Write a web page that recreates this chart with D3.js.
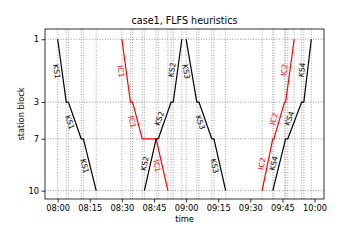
<!DOCTYPE html>
<html>
<head>
<meta charset="utf-8">
<script src="https://cdn.jsdelivr.net/npm/d3@7"></script>
<style>
  body { margin: 0; background: #fff; }
  svg { font-family: "DejaVu Sans", sans-serif; }
</style>
</head>
<body>
<div id="chart"></div>
<script>
// station blocks and their position along the line (km)
const stationLabels = ["1", "3", "7", "10"];
const stationKm = [0, 8.3, 13.15, 20];

// trains: minutes after 08:00 and the block reached at that time
const trainNames = ["KS1", "IC1", "KS2", "KS3", "IC2", "KS4"];
const trainKinds = ["KS", "IC", "KS", "KS", "IC", "KS"];
const trainMinutes = [
  [0, 4, 5, 11, 12, 18],
  [30, 34, 35, 39.5, 46, 51.5],
  [40.5, 46, 47, 53, 54, 58],
  [60, 65, 66, 72, 73, 78.5],
  [95.5, 100.5, 101, 106, 106.5, 110.5],
  [100.5, 106.5, 107.5, 114, 115, 118.5]
];
const trainBlocks = [
  ["1", "3", "3", "7", "7", "10"],
  ["1", "3", "3", "7", "7", "10"],
  ["10", "7", "7", "3", "3", "1"],
  ["1", "3", "3", "7", "7", "10"],
  ["10", "7", "7", "3", "3", "1"],
  ["10", "7", "7", "3", "3", "1"]
];
const kindColor = { KS: "#000", IC: "#f00" };

const width = 360, height = 240;
const margin = { top: 29, right: 36, bottom: 41, left: 45 };

const t0 = new Date(2020, 0, 1, 8, 0);
const toDate = m => new Date(t0.getTime() + m * 60000);
const kmOf = b => stationKm[stationLabels.indexOf(b)];

const trains = trainNames.map((name, i) => ({
  name: name,
  kind: trainKinds[i],
  pts: trainMinutes[i].map((m, j) => ({ t: toDate(m), km: kmOf(trainBlocks[i][j]) }))
}));

const allMin = trainMinutes.flat();
const [mMin, mMax] = d3.extent(allMin);
const pad = (mMax - mMin) * 0.05;

const x = d3.scaleTime()
  .domain([toDate(mMin - pad), toDate(mMax + pad)])
  .range([margin.left, width - margin.right]);

const y = d3.scaleLinear()
  .domain([-1.35, 21.1])
  .range([margin.top, height - margin.bottom]);

const svg = d3.select("#chart").append("svg")
  .attr("width", width)
  .attr("height", height);

// vertical dotted lines at every event time
const eventTimes = Array.from(new Set(allMin)).sort((a, b) => a - b);
svg.append("g").selectAll("line")
  .data(eventTimes)
  .join("line")
    .attr("x1", d => x(toDate(d)))
    .attr("x2", d => x(toDate(d)))
    .attr("y1", margin.top)
    .attr("y2", height - margin.bottom)
    .attr("stroke", "#8a8a8a")
    .attr("stroke-width", 0.8)
    .attr("stroke-dasharray", "1,1.6");

// horizontal dotted lines at the stations
svg.append("g").selectAll("line")
  .data(stationKm)
  .join("line")
    .attr("x1", margin.left)
    .attr("x2", width - margin.right)
    .attr("y1", d => y(d))
    .attr("y2", d => y(d))
    .attr("stroke", "#8a8a8a")
    .attr("stroke-width", 0.9)
    .attr("stroke-dasharray", "1,1.6");

const line = d3.line()
  .x(d => x(d.t))
  .y(d => y(d.km));

svg.append("g").selectAll("path")
  .data(trains)
  .join("path")
    .attr("d", d => line(d.pts))
    .attr("fill", "none")
    .attr("stroke", d => kindColor[d.kind])
    .attr("stroke-width", 1.2);

// labels on every running segment, on the left of the line
const labels = [];
trains.forEach(tr => {
  for (let j = 1; j < tr.pts.length; j++) {
    const a = tr.pts[j - 1], b = tr.pts[j];
    if (a.km === b.km) continue;
    const x0 = x(a.t), y0 = y(a.km), x1 = x(b.t), y1 = y(b.km);
    const ang = Math.atan2(y1 - y0, x1 - x0) * 180 / Math.PI;
    labels.push({ name: tr.name, kind: tr.kind, cx: (x0 + x1) / 2, cy: (y0 + y1) / 2, ang: ang, down: ang > 0 });
  }
});

svg.append("g").selectAll("text")
  .data(labels)
  .join("text")
    .attr("transform", d => "translate(" + d.cx + "," + d.cy + ") rotate(" + d.ang + ")")
    .attr("text-anchor", "middle")
    .attr("dy", d => d.down ? "1.05em" : "-0.4em")
    .attr("font-size", 7.6)
    .attr("fill", d => kindColor[d.kind])
    .text(d => d.name);

// axes
const xAxis = d3.axisBottom(x)
  .tickValues(d3.range(0, 121, 15).map(toDate))
  .tickFormat(d3.timeFormat("%H:%M"))
  .tickSize(3.5)
  .tickPadding(2.5);

const yAxis = d3.axisLeft(y)
  .tickValues(stationKm)
  .tickFormat((d, i) => stationLabels[i])
  .tickSize(3.5)
  .tickPadding(2.5);

const gx = svg.append("g")
  .attr("transform", "translate(0," + (height - margin.bottom) + ")")
  .call(xAxis);
const gy = svg.append("g")
  .attr("transform", "translate(" + margin.left + ",0)")
  .call(yAxis);

[gx, gy].forEach(g => {
  g.select(".domain").remove();
  g.selectAll("text").attr("font-size", 8.3).attr("font-family", "DejaVu Sans").attr("fill", "#000");
  g.selectAll("line").attr("stroke", "#000").attr("stroke-width", 0.8);
});

// frame
svg.append("rect")
  .attr("x", margin.left)
  .attr("y", margin.top)
  .attr("width", width - margin.left - margin.right)
  .attr("height", height - margin.top - margin.bottom)
  .attr("fill", "none")
  .attr("stroke", "#000")
  .attr("stroke-width", 0.8);

svg.append("text")
  .attr("x", (margin.left + width - margin.right) / 2)
  .attr("y", 24)
  .attr("text-anchor", "middle")
  .attr("font-size", 9.6)
  .text("case1, FLFS heuristics");

svg.append("text")
  .attr("x", (margin.left + width - margin.right) / 2)
  .attr("y", 222)
  .attr("text-anchor", "middle")
  .attr("font-size", 8.3)
  .text("time");

svg.append("text")
  .attr("transform", "translate(21," + (margin.top + height - margin.bottom) / 2 + ") rotate(-90)")
  .attr("text-anchor", "middle")
  .attr("dy", "0.35em")
  .attr("font-size", 8.3)
  .text("station block");
</script>
</body>
</html>
